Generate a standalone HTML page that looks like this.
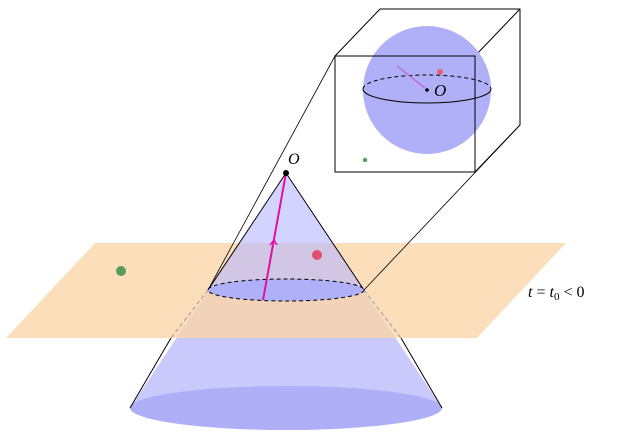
<!DOCTYPE html>
<html><head><meta charset="utf-8"><style>
html,body{margin:0;padding:0;background:#fff;width:629px;height:444px;overflow:hidden}
svg text{font-family:"Liberation Serif",serif;font-style:italic}
</style></head><body>
<svg width="629" height="444" viewBox="0 0 629 444">
<defs>
<clipPath id="upper"><rect x="0" y="0" width="629" height="290"/></clipPath>
<clipPath id="lower"><rect x="0" y="290" width="629" height="160"/></clipPath>
</defs>
<polygon points="286,173 130,408 442,408" fill="#c9c9fb" clip-path="url(#lower)"/>
<ellipse cx="286" cy="408" rx="156" ry="22" fill="#afaff8"/>
<polygon points="95,243 566,243 477,338 6,338" fill="#fcd6aa" opacity="0.8"/>
<polygon points="286,173 130,408 442,408" fill="#b8b8ff" opacity="0.62" clip-path="url(#upper)"/>
<line x1="286" y1="173" x2="208" y2="290" stroke="#000" stroke-width="1"/>
<line x1="286" y1="173" x2="364" y2="290" stroke="#000" stroke-width="1"/>
<line x1="208" y1="290" x2="171" y2="338" stroke="#999" stroke-width="1" stroke-dasharray="4,3"/>
<line x1="364" y1="290" x2="401" y2="338" stroke="#999" stroke-width="1" stroke-dasharray="4,3"/>
<line x1="171" y1="338" x2="130" y2="408" stroke="#000" stroke-width="1"/>
<line x1="401" y1="338" x2="442" y2="408" stroke="#000" stroke-width="1"/>
<ellipse cx="286" cy="290" rx="78" ry="11" fill="#b0b0f8"/>
<ellipse cx="286" cy="290" rx="78" ry="11" fill="none" stroke="#000" stroke-width="1" stroke-dasharray="4,3"/>
<line x1="208" y1="290" x2="335" y2="56" stroke="#000" stroke-width="0.8"/>
<line x1="364" y1="290" x2="520" y2="125" stroke="#000" stroke-width="0.8"/>
<g fill="none" stroke="#000" stroke-width="1">
<polyline points="335,56 380,9 520,9 520,125 475,172"/>
<line x1="475" y1="56" x2="520" y2="9"/>
</g>
<circle cx="427" cy="90" r="64" fill="#b0b0f8"/>
<path d="M363,89 A64,14 0 0,0 491,89" fill="none" stroke="#000" stroke-width="1"/>
<path d="M363,89 A64,14 0 0,1 491,89" fill="none" stroke="#000" stroke-width="1" stroke-dasharray="4,3"/>
<rect x="335" y="56" width="140" height="116" fill="none" stroke="#000" stroke-width="1"/>
<line x1="397" y1="66" x2="425" y2="88" stroke="#c060e0" stroke-width="1.3"/>
<circle cx="427" cy="90" r="1.8" fill="#000"/>
<circle cx="440" cy="72" r="3" fill="#e0607a"/>
<circle cx="365" cy="160" r="2.2" fill="#5a9a5a"/>
<text x="434" y="96" font-size="17">O</text>
<line x1="263" y1="300" x2="286" y2="173" stroke="#e010a0" stroke-width="2"/>
<path d="M270,245 L274,240 L277,245" fill="none" stroke="#e010a0" stroke-width="1.5"/>
<circle cx="286" cy="173" r="3" fill="#000"/>
<text x="288" y="164" font-size="16">O</text>
<circle cx="317" cy="255" r="5" fill="#e0506e"/>
<circle cx="121" cy="271" r="5" fill="#5a9a5a"/>
<text x="528" y="297" font-size="16">t <tspan font-style="normal">=</tspan> t<tspan font-size="11" dy="3" font-style="normal">0</tspan><tspan dy="-3" font-style="normal"> &lt; 0</tspan></text>
</svg>
</body></html>
